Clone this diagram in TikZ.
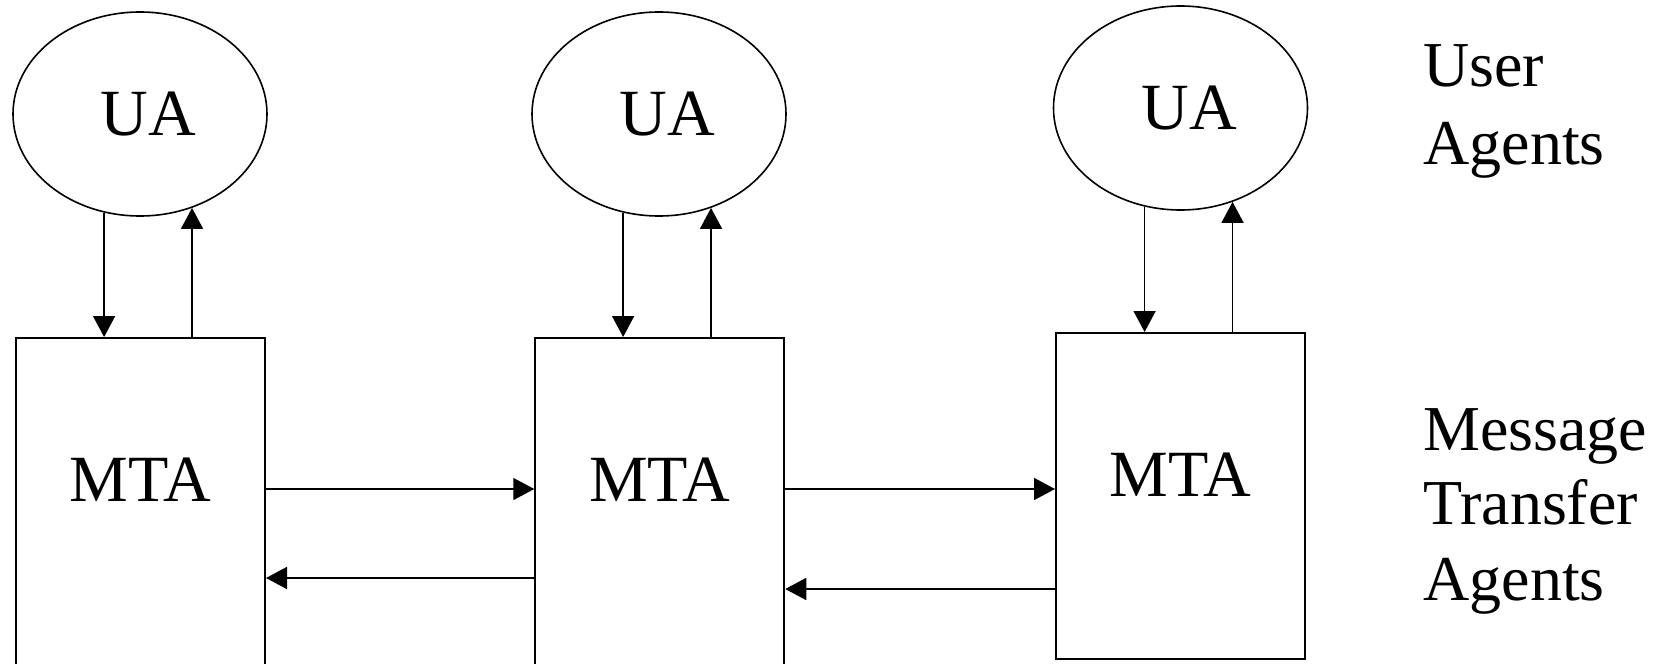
\documentclass[tikz,border=0pt]{standalone}
\usepackage{fontspec}
\setmainfont{Liberation Serif}
\usetikzlibrary{arrows.meta,shapes.geometric,calc}
\begin{document}
\begin{tikzpicture}[x=0.5pt,y=-0.5pt,
  ua/.style={draw, line width=0.8pt, ellipse, minimum width=127pt, minimum height=102pt, inner sep=0pt, font=\fontsize{33}{38}\selectfont},
  mtabox/.style={draw, line width=1pt, rectangle, minimum width=124.5pt, inner sep=0pt},
  boxtxt/.style={anchor=base, inner sep=0pt, font=\fontsize{33}{38}\selectfont},
  sidetxt/.style={anchor=base west, inner sep=0pt, font=\fontsize{32}{38}\selectfont},
  arr/.style={line width=0.8pt, -{Triangle[length=10.5pt,width=11pt]}}
]
\useasboundingbox (0,0) rectangle (1660,664);
% user agents
\node[ua] (e1) at (140,114) {\hspace*{8.5pt}UA};
\node[ua] (e2) at (659,114) {\hspace*{8.5pt}UA};
\node[ua] (e3) at (1180.5,108) {\hspace*{9pt}UA};
% MTA boxes
\node[mtabox, minimum height=176pt] (b1) at (140.5,514) {};
\node[mtabox, minimum height=176pt] (b2) at (659.75,514) {};
\node[mtabox, minimum height=163pt] (b3) at (1180.5,496) {};
\node[boxtxt] (t1) at ([yshift=-82pt]b1.north) {MTA};
\node[boxtxt] (t2) at ([yshift=-82pt]b2.north) {MTA};
\node[boxtxt] (t3) at ([yshift=-82pt]b3.north) {MTA};
% vertical arrows
\foreach \i in {1,2,3}{
  \draw[arr] (e\i.250) -- (e\i.250 |- b\i.north);
  \draw[arr] (e\i.299 |- b\i.north) -- (e\i.299);
}
% horizontal arrows
\draw[arr] ([yshift=12.5pt]b1.east) -- ([yshift=12.5pt]b1.east -| b2.west);
\draw[arr] ([yshift=-32pt]b2.west) -- ([yshift=-32pt]b2.west -| b1.east);
\draw[arr] ([yshift=12.5pt]b2.east) -- ([yshift=12.5pt]b2.east -| b3.west);
\draw[arr] ([yshift=-46.5pt]b3.west) -- ([yshift=-46.5pt]b3.west -| b2.east);
% side labels
\node[sidetxt] (l1) at (1423,86.7) {User};
\node[sidetxt] (l2) at (1423,164) {Agents};
\node[sidetxt] (l3) at (1423,450) {Message};
\node[sidetxt] (l4) at (1423,524) {Transfer};
\node[sidetxt] (l5) at (1423,600) {Agents};
\end{tikzpicture}
\end{document}
